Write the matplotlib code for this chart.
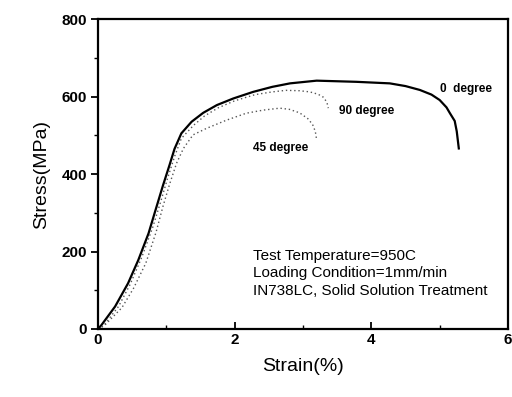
import matplotlib
matplotlib.use('Agg')
import matplotlib.pyplot as plt
from matplotlib.ticker import MultipleLocator

plt.rcParams['font.family'] = ['Liberation Sans', 'DejaVu Sans']

# 0 degree (solid)
strain_0 = [0.0, 0.05, 0.25, 0.44, 0.59, 0.74, 0.83, 0.95, 1.05, 1.12, 1.22, 1.37, 1.54,
            1.74, 1.98, 2.27, 2.55, 2.81, 3.20, 3.78, 4.27, 4.50, 4.71, 4.88, 5.00,
            5.10, 5.15, 5.22, 5.25, 5.28]
stress_0 = [0, 10, 58, 118, 178, 247, 300, 370, 425, 465, 505, 535, 558,
            578, 595, 612, 625, 634, 641, 638, 634, 627, 617, 605, 591,
            572, 557, 537, 510, 466]

# 90 degree (dotted)
strain_90 = [0.0, 0.08, 0.30, 0.47, 0.64, 0.80, 0.92, 1.02, 1.12, 1.22, 1.40, 1.56,
             1.76, 2.00, 2.30, 2.55, 2.75, 2.95, 3.10, 3.22, 3.30, 3.35, 3.37]
stress_90 = [0, 8, 58, 115, 185, 262, 330, 390, 445, 492, 526, 550,
             571, 589, 605, 612, 616, 615, 612, 606, 598, 585, 570]

# 45 degree (dotted)
strain_45 = [0.0, 0.10, 0.35, 0.52, 0.70, 0.85, 0.95, 1.05, 1.15, 1.25, 1.39, 1.59,
             1.88, 2.17, 2.42, 2.66, 2.80, 2.95, 3.07, 3.14, 3.18, 3.20]
stress_45 = [0, 10, 55, 105, 170, 250, 316, 375, 428, 466, 501, 518,
             539, 557, 565, 570, 567, 558, 543, 528, 510, 488]

labels = ['0  degree', '90 degree', '45 degree']
label_pos = [(5.0, 620), (3.52, 563), (2.27, 466)]
note = 'Test Temperature=950C\nLoading Condition=1mm/min\nIN738LC, Solid Solution Treatment'

fig = plt.figure(figsize=(5.12, 3.97), dpi=100)
ax = fig.add_axes([0.1914, 0.1713, 0.8008, 0.7807])

ax.plot(strain_0, stress_0, color='black', lw=1.6)
ax.plot(strain_90, stress_90, color='#555555', lw=1.0, ls=(0, (1, 2)))
ax.plot(strain_45, stress_45, color='#555555', lw=1.0, ls=(0, (1, 2)))

for (x, y), t in zip(label_pos, labels):
    ax.text(x, y, t, fontsize=8.5, fontweight='bold', ha='left', va='center')

ax.text(2.27, 206, note, fontsize=11, ha='left', va='top', linespacing=1.3)

ax.set_xlim(0, 6)
ax.set_ylim(0, 800)
ax.xaxis.set_major_locator(MultipleLocator(2))
ax.xaxis.set_minor_locator(MultipleLocator(1))
ax.yaxis.set_major_locator(MultipleLocator(200))
ax.yaxis.set_minor_locator(MultipleLocator(100))
ax.tick_params(axis='x', which='both', direction='in', top=False)
ax.tick_params(axis='y', which='both', direction='out', right=False)
ax.tick_params(which='major', length=5, width=1.3, labelsize=11, pad=3)
ax.tick_params(which='minor', length=3, width=1.0)
for lab in ax.get_xticklabels() + ax.get_yticklabels():
    lab.set_fontweight('bold')
for s in ax.spines.values():
    s.set_linewidth(1.6)

ax.set_xlabel('Strain(%)', fontsize=14, labelpad=8)
ax.set_ylabel('Stress(MPa)', fontsize=14, labelpad=8)

fig.savefig('out.png', dpi=100)
